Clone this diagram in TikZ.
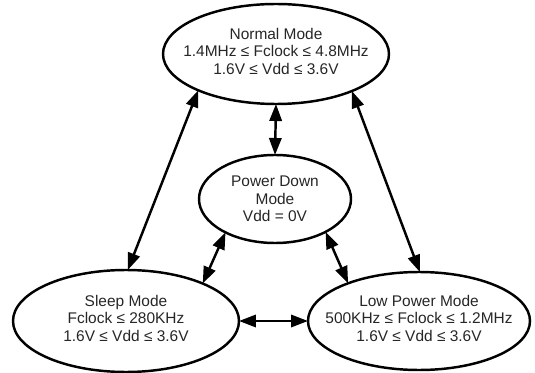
\documentclass[tikz,border=0pt]{standalone}
\usepackage{fontspec}
\setmainfont{Liberation Sans}
\usetikzlibrary{shapes.geometric,arrows.meta}
\begin{document}
\begin{tikzpicture}[x=0.03cm,y=-0.03cm,
    mode/.style={ellipse, draw, line width=2.1pt, inner sep=0pt, outer sep=0pt},
    modetext/.style={align=center, text=black!85, inner sep=0pt, yshift=0.08cm,
      font=\fontsize{13.2}{15}\selectfont},
    link/.style={{Triangle[length=14.5pt,width=10.5pt]}-{Triangle[length=14.5pt,width=10.5pt]}, line width=2.1pt}]
    \useasboundingbox (0,0) rectangle (535,373);

    \node[mode, minimum width=6.78cm, minimum height=3.0cm,
      label={[modetext]center:{Normal Mode\\1.4MHz ≤ Fclock ≤ 4.8MHz\\1.6V ≤ Vdd ≤ 3.6V}}]
      (normal) at (276,54) {};
    \node[mode, minimum width=4.56cm, minimum height=2.64cm,
      label={[modetext, yshift=-0.08cm]center:{Power Down\\Mode\\Vdd = 0V}}]
      (pwrdown) at (275,199) {};
    \node[mode, minimum width=6.78cm, minimum height=3.06cm,
      label={[modetext]center:{Sleep Mode\\Fclock ≤ 280KHz\\1.6V ≤ Vdd ≤ 3.6V}}]
      (sleep) at (126,321) {};
    \node[mode, minimum width=6.66cm, minimum height=2.94cm,
      label={[modetext]center:{Low Power Mode\\500KHz ≤ Fclock ≤ 1.2MHz\\1.6V ≤ Vdd ≤ 3.6V}}]
      (lowpwr) at (419,321) {};

    \draw[link] (normal.south) -- (pwrdown.north);
    \draw[link] (normal.205) -- (sleep.88);
    \draw[link] (normal.334) -- (lowpwr.89);
    \draw[link] (pwrdown.214) -- (sleep.26);
    \draw[link] (pwrdown.327) -- (lowpwr.152);
    \draw[link] (sleep.east) -- (lowpwr.west);
\end{tikzpicture}
\end{document}
